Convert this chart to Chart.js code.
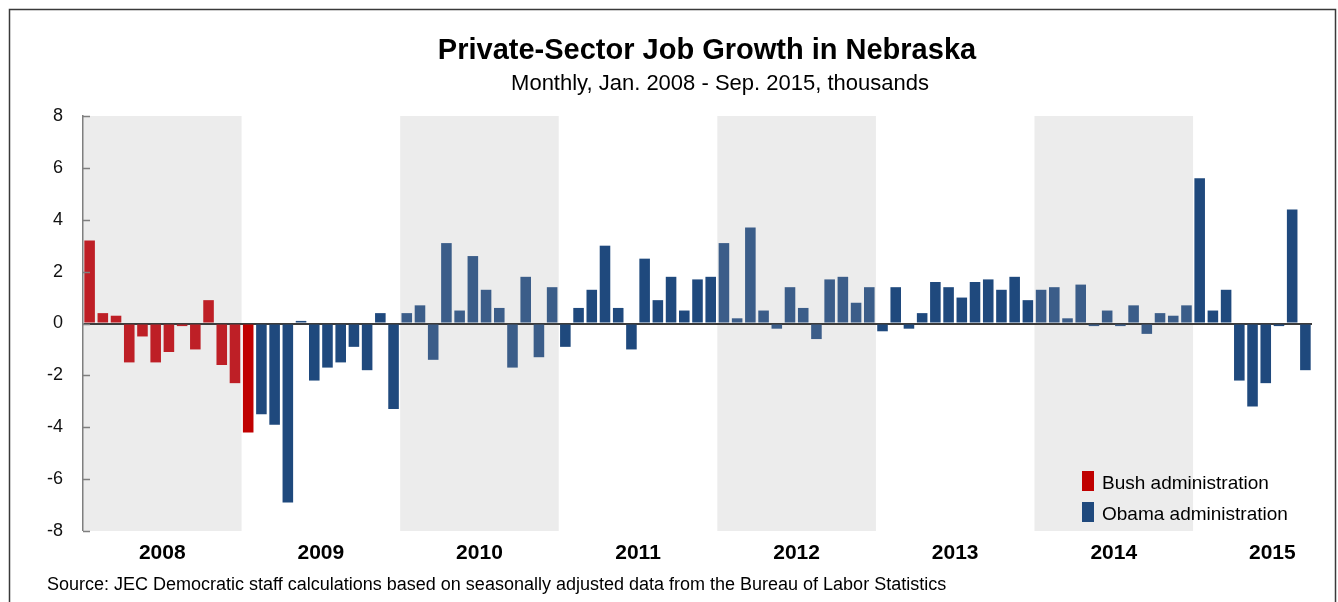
<!DOCTYPE html>
<html>
<head>
<meta charset="utf-8">
<title>Private-Sector Job Growth in Nebraska</title>
<script src="https://cdn.jsdelivr.net/npm/chart.js@4.4.1/dist/chart.umd.min.js"></script>
<style>
  html, body { margin: 0; padding: 0; background: #fff; }
  #wrap { width: 1338px; height: 602px; position: relative; }
</style>
</head>
<body>
<div id="wrap"><canvas id="jobChart" width="1338" height="602"></canvas></div>
<script>
const years = ['2008', '2009', '2010', '2011', '2012', '2013', '2014', '2015'];
const monthNames = ['Jan', 'Feb', 'Mar', 'Apr', 'May', 'Jun', 'Jul', 'Aug', 'Sep', 'Oct', 'Nov', 'Dec'];
const monthsInLastYear = 9;

// Jan 2008 - Jan 2009
const bushValues = [3.2, 0.4, 0.3, -1.5, -0.5, -1.5, -1.1, -0.1, -1.0, 0.9, -1.6, -2.3,
    -4.2];
// Feb 2009 - Sep 2015
const obamaValues = [
    -3.5, -3.9, -6.9, 0.1, -2.2, -1.7, -1.5, -0.9, -1.8, 0.4, -3.3,
    0.4, 0.7, -1.4, 3.1, 0.5, 2.6, 1.3, 0.6, -1.7, 1.8, -1.3, 1.4,
    -0.9, 0.6, 1.3, 3.0, 0.6, -1.0, 2.5, 0.9, 1.8, 0.5, 1.7, 1.8,
    3.1, 0.2, 3.7, 0.5, -0.2, 1.4, 0.6, -0.6, 1.7, 1.8, 0.8, 1.4,
    -0.3, 1.4, -0.2, 0.4, 1.6, 1.4, 1.0, 1.6, 1.7, 1.3, 1.8, 0.9,
    1.3, 1.4, 0.2, 1.5, -0.1, 0.5, -0.1, 0.7, -0.4, 0.4, 0.3, 0.7,
    5.6, 0.5, 1.3, -2.2, -3.2, -2.3, -0.1, 4.4, -1.8
];
const yTicks = [-8, -6, -4, -2, 0, 2, 4, 6, 8];
const shadedYears = ['2008', '2010', '2012', '2014'];

const legendLabels = ['Bush administration', 'Obama administration'];
const sourceText = 'Source: JEC Democratic staff calculations based on seasonally adjusted data from the Bureau of Labor Statistics';

const labels = [];
const labelYear = [];
years.forEach((y, i) => {
    const n = i === years.length - 1 ? monthsInLastYear : 12;
    for (let m = 0; m < n; m++) {
        labels.push(monthNames[m] + ' ' + y);
        labelYear.push(y);
    }
});
const values = bushValues.concat(obamaValues);

const BUSH = '#c00000', BUSH_SHADED = '#be1f26';
const OBAMA = '#1f497d', OBAMA_SHADED = '#3b5d89';

const barColors = values.map((v, i) => {
    const shaded = shadedYears.includes(labelYear[i]);
    if (i < bushValues.length) return shaded ? BUSH_SHADED : BUSH;
    return shaded ? OBAMA_SHADED : OBAMA;
});

const FONT = '"Liberation Sans", Arial, sans-serif';

function slotWidth(x) {
    return x.getPixelForValue(1) - x.getPixelForValue(0);
}

const decorPlugin = {
    id: 'decor',
    beforeDraw(chart) {
        const ctx = chart.ctx;
        const area = chart.chartArea;
        const x = chart.scales.x;
        const w = slotWidth(x);
        ctx.save();
        ctx.fillStyle = '#fff';
        ctx.fillRect(0, 0, chart.width, chart.height);
        // frame
        ctx.strokeStyle = '#3a3a3a';
        ctx.lineWidth = 1.5;
        ctx.beginPath();
        ctx.moveTo(9.5, chart.height + 5);
        ctx.lineTo(9.5, 9.5);
        ctx.lineTo(1335.5, 9.5);
        ctx.lineTo(1335.5, chart.height + 5);
        ctx.stroke();
        // alternating year bands
        ctx.fillStyle = '#ececec';
        shadedYears.forEach(y => {
            const first = labelYear.indexOf(y);
            const last = labelYear.lastIndexOf(y);
            const x0 = x.getPixelForValue(first) - w / 2;
            const x1 = x.getPixelForValue(last) + w / 2;
            ctx.fillRect(x0, area.top, x1 - x0, area.bottom - area.top);
        });
        ctx.restore();
    },
    afterDraw(chart) {
        const ctx = chart.ctx;
        const area = chart.chartArea;
        const x = chart.scales.x;
        const y = chart.scales.y;
        const w = slotWidth(x);
        ctx.save();
        // inner tick marks on the y axis
        ctx.strokeStyle = '#7f7f7f';
        ctx.lineWidth = 1.5;
        yTicks.forEach(t => {
            const py = Math.round(y.getPixelForValue(t)) + 0.5;
            ctx.beginPath();
            ctx.moveTo(area.left, py);
            ctx.lineTo(area.left + 7, py);
            ctx.stroke();
        });
        // title
        ctx.fillStyle = '#000';
        ctx.textAlign = 'center';
        ctx.textBaseline = 'alphabetic';
        ctx.font = 'bold 29px ' + FONT;
        ctx.fillText('Private-Sector Job Growth in Nebraska', 707, 59);
        ctx.font = '22px ' + FONT;
        ctx.fillText('Monthly, Jan. 2008 - Sep. 2015, thousands', 720, 90);
        // year labels, centred on a twelve month slot
        ctx.font = 'bold 21px ' + FONT;
        ctx.textBaseline = 'middle';
        years.forEach(yr => {
            const first = labelYear.indexOf(yr);
            const cx = x.getPixelForValue(first) + 5.5 * w;
            ctx.fillText(yr, cx, 553);
        });
        // source
        ctx.textAlign = 'left';
        ctx.font = '18px ' + FONT;
        ctx.fillText(sourceText, 47, 585);
        // legend
        const swatches = [BUSH, OBAMA];
        ctx.font = '19px ' + FONT;
        legendLabels.forEach((txt, i) => {
            const top = 471 + i * 31;
            ctx.fillStyle = swatches[i];
            ctx.fillRect(1082, top, 12, 20);
            ctx.fillStyle = '#000';
            ctx.fillText(txt, 1102, top + 13);
        });
        ctx.restore();
    }
};

new Chart(document.getElementById('jobChart'), {
    type: 'bar',
    data: {
        labels: labels,
        datasets: [{
            label: 'Private-sector job growth',
            data: values,
            backgroundColor: barColors,
            borderWidth: 0,
            barPercentage: 0.8,
            categoryPercentage: 1.0
        }]
    },
    options: {
        responsive: false,
        animation: false,
        layout: { padding: { top: 116, bottom: 71, left: 0, right: 26 } },
        plugins: {
            legend: { display: false },
            title: { display: false },
            tooltip: { enabled: false }
        },
        scales: {
            x: { display: false, offset: true },
            y: {
                min: -8,
                max: 8,
                z: 1,
                afterFit: s => { s.width = 83; },
                afterBuildTicks: s => { s.ticks = yTicks.map(v => ({ value: v })); },
                border: { display: true, color: '#7f7f7f', width: 1.5 },
                grid: {
                    drawTicks: false,
                    color: c => c.tick && c.tick.value === 0 ? '#3c3c3c' : 'rgba(0,0,0,0)',
                    lineWidth: c => c.tick && c.tick.value === 0 ? 2 : 0
                },
                ticks: {
                    padding: 20,
                    color: '#111',
                    font: { family: FONT, size: 18 }
                }
            }
        }
    },
    plugins: [decorPlugin]
});
</script>
</body>
</html>
